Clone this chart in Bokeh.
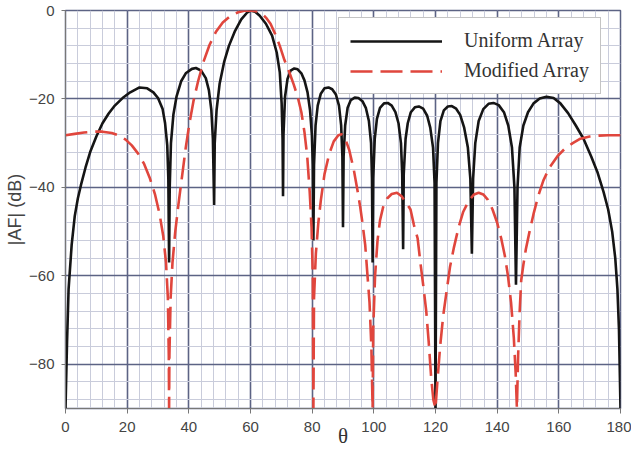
from bokeh.plotting import figure
from bokeh.models import Range1d, FixedTicker, Legend, LegendItem
from bokeh.embed import file_html
from bokeh.resources import INLINE

# Array factor magnitude (dB) versus angle theta (degrees)
theta_uniform = [
    0, 0.5, 1, 2, 3, 4, 5, 6.5, 8, 10, 12, 14, 16, 18.5, 21, 24, 26.5, 28.5, 30, 31.5, 32.3, 33.0, 33.35, 33.6,
    33.8, 34.2, 35, 36, 37.5, 39, 41, 42.3, 44, 45.5, 46.5, 47.3, 47.8, 48.2,
    48.4, 49, 50, 51.5, 53, 55, 57, 59, 60, 61.5, 63, 65, 67, 68.5, 69.5, 70.1, 70.4, 70.55,
    70.7, 71.2, 72, 73, 74.2, 75.3, 76.5, 77.5, 78.5, 79.3, 79.9, 80.2, 80.4,
    80.6, 81.1, 81.8, 82.8, 84, 85.3, 86.5, 87.7, 88.7, 89.4, 89.8, 90,
    90.2, 90.7, 91.5, 92.5, 93.8, 95, 96.3, 97.4, 98.4, 99.1, 99.4, 99.6,
    99.8, 100.3, 101, 102, 103.3, 104.5, 105.8, 107, 108, 108.8, 109.2, 109.5,
    109.7, 110.3, 111, 112, 113.3, 114.6, 116, 117.3, 118.3, 119.2, 119.7, 120,
    120.3, 120.8, 121.6, 122.7, 124, 125.3, 126.7, 128, 129.3, 130.5, 131.3, 131.8,
    132.2, 132.9, 134, 135.5, 137.2, 138.8, 140.5, 142.2, 143.6, 144.8, 145.6, 146.1,
    146.6, 147.3, 148.5, 150, 151.8, 153.8, 156, 158.3, 160.5, 163, 165.5, 168, 170.5,
    172.5, 174.5, 176, 177.3, 178.3, 179, 179.5, 180,
]
af_uniform = [
    -90, -75, -63, -53, -46.5, -42.5, -39.5, -35.5, -32, -28.5, -25.5, -23.3, -21.5, -19.8, -18.5, -17.4, -17.6, -18.5, -19.8, -22.3, -25.5, -30.5, -38, -57,
    -40, -30, -23.5, -19.5, -16, -14.2, -13.2, -13, -13.6, -15.3, -18, -22.5, -29, -44,
    -30, -22.5, -16.5, -11.5, -8, -4.6, -2, -0.4, 0, -0.3, -1.2, -3, -5.7, -9.5, -14, -21, -29, -42,
    -28, -19.5, -15.5, -13.6, -13.1, -13.3, -14.2, -15.8, -18.5, -22.5, -28, -35, -52,
    -35, -26, -21.5, -18.8, -17.6, -17.4, -17.8, -19, -21.5, -26, -33, -49,
    -33, -26, -22, -20.3, -19.7, -19.8, -20.5, -22, -25, -30, -38, -57,
    -38, -29, -24.5, -22, -21, -20.9, -21.5, -23, -25.5, -30, -37, -54,
    -37, -29, -25.5, -23, -21.9, -21.7, -22.2, -23.8, -26.5, -31, -39, -90,
    -39, -30, -25, -22.6, -21.7, -21.6, -22.2, -23.6, -26.5, -31, -38, -55,
    -38, -30, -25, -22.3, -21.1, -20.9, -21.4, -23, -26, -31, -40, -62,
    -40, -31, -26, -23, -21, -19.9, -19.5, -19.8, -21, -23.2, -26, -29, -33,
    -36.5, -41, -45, -50, -56, -63, -72, -90,
]

theta_modified = [
    0, 3, 6, 9, 12, 15, 17.5, 19.5, 21.5, 23.5, 25.5, 27.3, 29, 30.5, 31.7, 32.6, 33.2, 33.5, 33.6,
    33.7, 34.1, 34.7, 35.6, 36.6, 37.8, 39, 40.2, 41.5, 43, 44.8, 46.7, 48.8, 51, 53.5, 56, 58, 60,
    62, 63.5, 65, 66.5, 68, 69.5, 71, 72.5, 74, 75.3, 76.5, 77.5, 78.4, 79.2, 79.8, 80.2, 80.4,
    80.6, 81.2, 82, 82.8, 84, 85.5, 87, 88.5, 89.5, 90.5, 92, 93.5, 94.7, 95.6, 96.3, 97.2, 97.9, 98.6, 99.2, 99.6,
    99.8, 100.4, 101.2, 102, 103, 104.3, 105.8, 107.5, 109, 110.5, 111.9, 113, 114.2, 115.1, 116.1, 117, 117.8, 118.6, 119.3, 120,
    120.6, 121.5, 122.5, 123.5, 124.7, 126, 127.5, 129, 130.8, 132.5, 134, 135.5, 137, 138.5, 140, 141.3, 142.5, 143.5, 144.5, 145.4, 146, 146.4,
    146.8, 147.3, 147.8, 148.5, 149.3, 150.5, 151.8, 153.3, 155, 157, 159.5, 162, 164.5, 167, 170, 173, 176, 180,
]
af_modified = [
    -28.2, -27.9, -27.6, -27.4, -27.4, -27.7, -28.3, -29.2, -30.5, -32.3, -34.7, -37.8, -41.5, -46, -51, -57, -65, -78, -90,
    -78, -65, -57, -50, -44, -37.5, -31, -25.5, -20.5, -16, -11.5, -7.8, -4.8, -2.7, -1.2, -0.4, -0.05, 0,
    -0.2, -0.6, -1.6, -3, -5.3, -8, -11.2, -13.8, -16.7, -19.5, -23, -27.5, -33, -41, -49, -60, -90,
    -65, -55, -48, -43, -37, -32.5, -29.6, -28.2, -28, -28.6, -31.5, -36, -40.7, -44.5, -48, -53, -59.5, -66, -76, -90,
    -72, -60, -52, -47.5, -44.5, -42.5, -41.5, -41.2, -42, -43.5, -45, -48.5, -51.5, -57, -62.6, -68, -75, -83, -88, -90,
    -84, -76, -69, -64, -58, -53.5, -49, -45.5, -43, -41.6, -41.2, -41.6, -42.8, -45, -48, -51.5, -55.5, -60, -66, -74, -82, -90,
    -78, -68, -61, -57.5, -54, -50, -46, -42, -38.4, -35.5, -33, -31.2, -30, -29, -28.5, -28.3, -28.2, -28.2,
]

x_ticks = [0, 20, 40, 60, 80, 100, 120, 140, 160, 180]
y_ticks = [-80, -60, -40, -20, 0]

MAJOR = "#5c6384"
MINOR = "#c9ccdb"

p = figure(
    width=631, height=450,
    output_backend="svg", toolbar_location=None,
    x_range=Range1d(0, 180), y_range=Range1d(-90, 0),
    min_border_left=65, min_border_right=11,
    min_border_top=10, min_border_bottom=42,
    background_fill_color="white", border_fill_color="white",
)
p.outline_line_color = MAJOR
p.outline_line_width = 1.5

p.xaxis.ticker = FixedTicker(ticks=x_ticks, minor_ticks=list(range(0, 181, 4)))
p.yaxis.ticker = FixedTicker(ticks=y_ticks, minor_ticks=list(range(-88, 1, 4)))

for grid in (p.xgrid, p.ygrid):
    grid.grid_line_color = MAJOR
    grid.grid_line_width = 1.6
    grid.grid_line_alpha = 1.0
    grid.minor_grid_line_color = MINOR
    grid.minor_grid_line_width = 1.0

for ax in (p.xaxis, p.yaxis):
    ax.axis_line_color = "#777777"
    ax.major_tick_line_color = "#777777"
    ax.minor_tick_line_color = None
    ax.major_tick_in = 0
    ax.major_label_text_font = "Liberation Sans"
    ax.major_label_text_font_size = "15px"
    ax.major_label_text_color = "#444444"

p.xaxis.major_tick_out = 5
p.xaxis.major_label_standoff = 8
p.yaxis.major_tick_out = 4
p.yaxis.major_label_standoff = 7

p.yaxis.axis_label = "|AF| (dB)"
p.yaxis.axis_label_text_font = "Liberation Sans"
p.yaxis.axis_label_text_font_size = "18px"
p.yaxis.axis_label_text_font_style = "normal"
p.yaxis.axis_label_text_color = "#444444"
p.yaxis.axis_label_standoff = 1

p.xaxis.axis_label = "θ"
p.xaxis.axis_label_text_font = "Liberation Serif"
p.xaxis.axis_label_text_font_size = "21px"
p.xaxis.axis_label_text_font_style = "normal"
p.xaxis.axis_label_text_color = "#333333"
p.xaxis.axis_label_standoff = -11

r_uni = p.line(theta_uniform, af_uniform, line_color="#151515", line_width=2.6)
r_mod = p.line(theta_modified, af_modified, line_color="#e0463d", line_width=2.6,
               line_dash="22 8")

legend = Legend(
    items=[
        LegendItem(label="Uniform Array", renderers=[r_uni]),
        LegendItem(label="Modified Array", renderers=[r_mod]),
    ],
    location=(273, 314),
    orientation="vertical",
    glyph_width=92, glyph_height=20,
    label_height=20, label_standoff=22,
    spacing=7, padding=11, margin=0,
    label_text_font="Liberation Serif", label_text_font_size="20px",
    label_text_color="#333333",
    border_line_color="#8a8a8a", border_line_width=1.5,
    background_fill_color="white", background_fill_alpha=1.0,
)
p.add_layout(legend)

open("out.html", "w").write(file_html(p, INLINE))
